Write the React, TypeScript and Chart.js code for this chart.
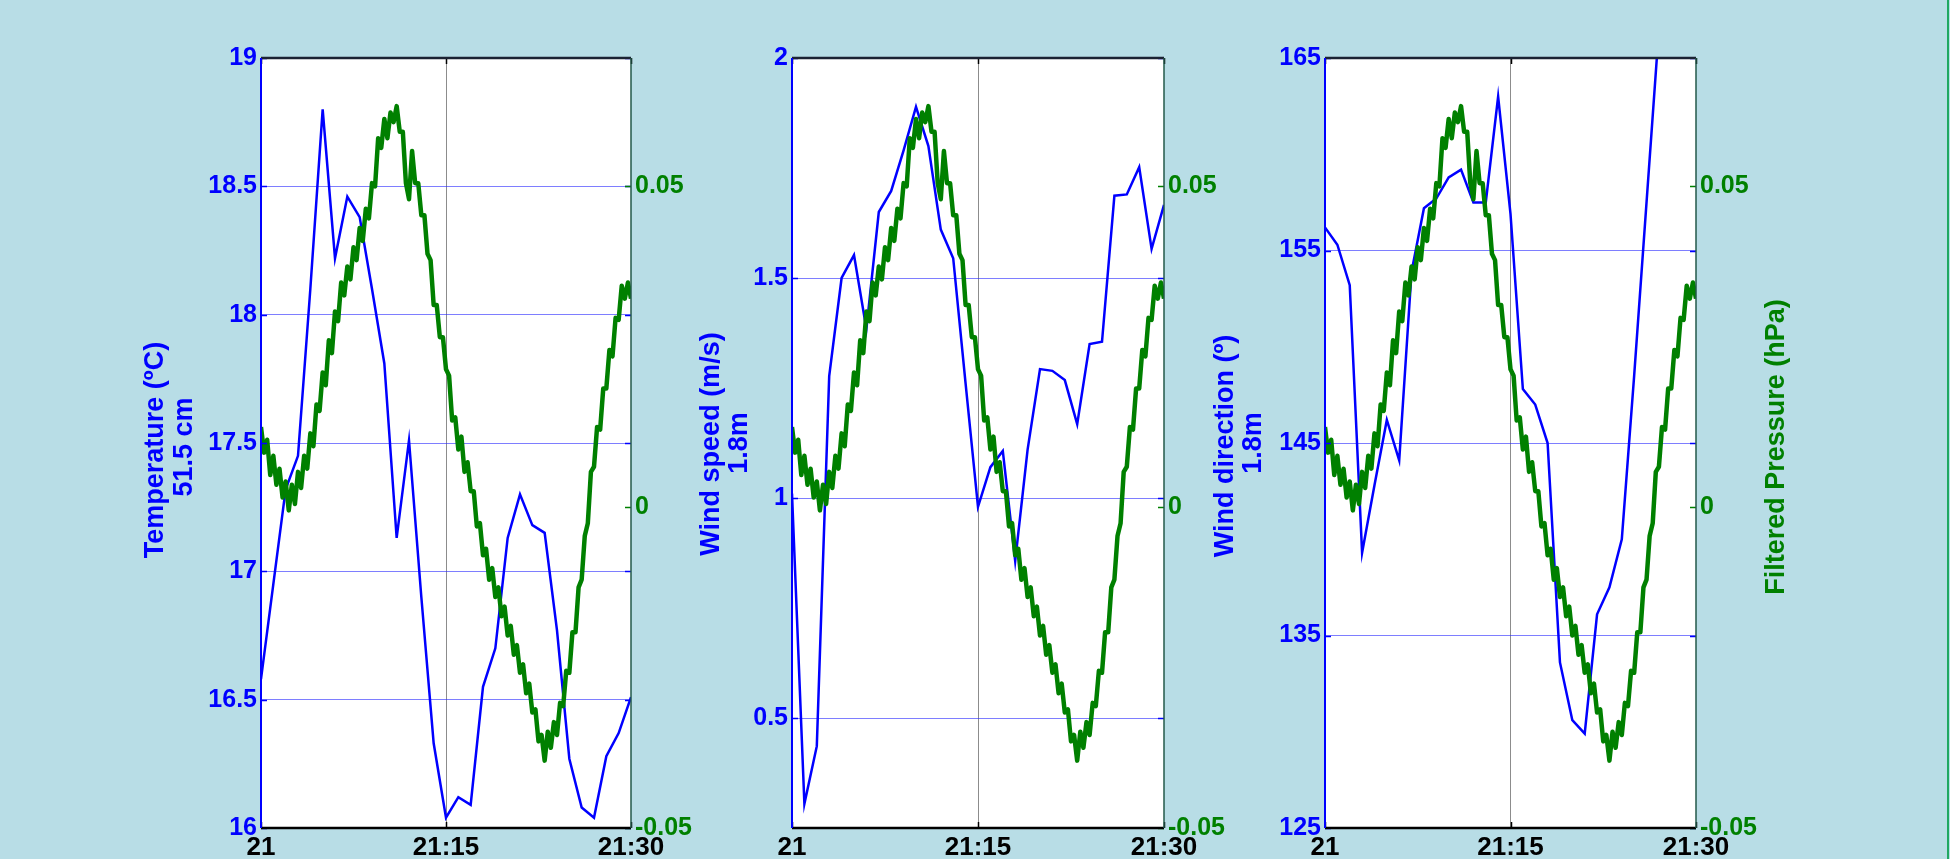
import React, { useEffect, useRef } from 'react';
import { Chart, registerables } from 'chart.js';

Chart.register(...registerables);

const W = 1950;
const H = 859;
const FONT = '"Liberation Sans", Arial, sans-serif';
const BLUE = '#0000FF';
const GREEN = '#008000';
const BG = '#B8DDE6';

// ---- data ----
const MINUTE_STEP = 1; // blue series sampled every minute from 21:00
const PRESSURE_STEP = 0.25; // filtered pressure sampled every 15 s

const X_TICKS = [0, 15, 30];
const X_TICK_LABELS = ['21', '21:15', '21:30'];

const temperature = [
  16.58, 16.95, 17.32, 17.45, 18.1, 18.8, 18.22, 18.46, 18.38, 18.1, 17.81,
  17.13, 17.51, 16.9, 16.33, 16.04, 16.12, 16.09, 16.55, 16.7, 17.13, 17.3,
  17.18, 17.15, 16.77, 16.27, 16.08, 16.04, 16.28, 16.37, 16.51,
];

const windSpeed = [
  1.01, 0.305, 0.436, 1.277, 1.5, 1.552, 1.384, 1.65, 1.698, 1.79, 1.889,
  1.8, 1.61, 1.545, 1.26, 0.98, 1.07, 1.107, 0.857, 1.11, 1.293, 1.289,
  1.268, 1.168, 1.35, 1.355, 1.687, 1.69, 1.752, 1.566, 1.666,
];

const windDirection = [
  156.2, 155.3, 153.2, 139.3, 142.8, 146.2, 144.1, 153.9, 157.2, 157.7, 158.8,
  159.2, 157.5, 157.5, 163.0, 156.9, 147.8, 147.0, 145.0, 133.6, 130.6, 129.9,
  136.1, 137.5, 140.0, 148.5, 157.5, 166.5, 170.0, 172.0, 171.0,
];

const pressure = [
  0.0125, 0.0085, 0.0105, 0.005, 0.008, 0.0035, 0.006, 0.0015, 0.004, -0.0005,
  0.0035, 0.0005, 0.0055, 0.003, 0.008, 0.006, 0.0115, 0.0095, 0.016, 0.015,
  0.021, 0.019, 0.026, 0.024, 0.0305, 0.029, 0.035, 0.033, 0.0375, 0.0355,
  0.0405, 0.0385, 0.0435, 0.0415, 0.0465, 0.045, 0.0505, 0.05, 0.0575, 0.056,
  0.0605, 0.0575, 0.0615, 0.06, 0.0625, 0.0585, 0.0585, 0.0505, 0.048, 0.0555,
  0.0505, 0.0505, 0.0455, 0.0455, 0.0395, 0.0385, 0.0315, 0.0315, 0.0265, 0.0265,
  0.0215, 0.0205, 0.0135, 0.014, 0.009, 0.011, 0.0055, 0.007, 0.0025, 0.0025,
  -0.003, -0.0025, -0.0075, -0.0065, -0.0113, -0.0095, -0.014, -0.0125, -0.017, -0.0155,
  -0.02, -0.0185, -0.023, -0.0215, -0.0258, -0.0245, -0.029, -0.0275, -0.032, -0.0315,
  -0.0365, -0.0355, -0.0395, -0.035, -0.0375, -0.0335, -0.0355, -0.0305, -0.031, -0.0255,
  -0.0258, -0.0195, -0.0195, -0.0125, -0.0113, -0.0045, -0.0025, 0.0055, 0.0063, 0.0125,
  0.0121, 0.0185, 0.0185, 0.0245, 0.0235, 0.0295, 0.0292, 0.0345, 0.0325, 0.035,
  0.0325,
];

const tempTicks = [16, 16.5, 17, 17.5, 18, 18.5, 19];
const speedTicks = [0.5, 1, 1.5, 2];
const dirTicks = [125, 135, 145, 155, 165];
const pressureTicks = [-0.05, 0, 0.05];

const PRESSURE_MIN = -0.05;
const PRESSURE_MAX = 0.07;

// ---- layout ----
const LW = 70;
const RW = 90;
const TOP = 58;
const XAXIS_H = 31;

const PANELS = [
  {
    left: 261, right: 631, values: temperature, yMin: 16, yMax: 19, yTicks: tempTicks,
    titles: [
      { text: 'Temperature (ºC)', x: 156, y: 450, color: BLUE },
      { text: '51.5 cm', x: 185, y: 447, color: BLUE },
    ],
  },
  {
    left: 792, right: 1164, values: windSpeed, yMin: 0.25, yMax: 2, yTicks: speedTicks,
    titles: [
      { text: 'Wind speed (m/s)', x: 712, y: 444, color: BLUE },
      { text: '1.8m', x: 740, y: 443, color: BLUE },
    ],
  },
  {
    left: 1325, right: 1696, values: windDirection, yMin: 125, yMax: 165, yTicks: dirTicks,
    titles: [
      { text: 'Wind direction (º)', x: 1226, y: 446, color: BLUE },
      { text: '1.8m', x: 1254, y: 443, color: BLUE },
      { text: 'Filtered Pressure (hPa)', x: 1777, y: 447, color: GREEN },
    ],
  },
];

const framePlugin = {
  id: 'matlabFrame',
  beforeDraw(chart: any) {
    const { ctx, chartArea: a } = chart;
    ctx.save();
    ctx.fillStyle = '#FFFFFF';
    ctx.fillRect(a.left, a.top, a.right - a.left, a.bottom - a.top);
    ctx.restore();
  },
  afterDraw(chart: any, _args: any, opts: any) {
    const { ctx, chartArea: a, scales } = chart;
    const line = (x1: number, y1: number, x2: number, y2: number, c: string, w: number) => {
      ctx.beginPath();
      ctx.strokeStyle = c;
      ctx.lineWidth = w;
      ctx.moveTo(x1, y1);
      ctx.lineTo(x2, y2);
      ctx.stroke();
    };
    ctx.save();
    const tl = 6;
    scales.yL.ticks.forEach((t: any) => {
      const y = Math.round(scales.yL.getPixelForValue(t.value)) + 0.5;
      line(a.left, y, a.left + tl, y, BLUE, 1.5);
      line(a.right, y, a.right - tl, y, BLUE, 1.5);
    });
    scales.yR.ticks.forEach((t: any) => {
      const y = Math.round(scales.yR.getPixelForValue(t.value)) + 0.5;
      line(a.right, y, a.right - tl, y, GREEN, 1.5);
    });
    scales.x.ticks.forEach((t: any) => {
      const x = Math.round(scales.x.getPixelForValue(t.value)) + 0.5;
      line(x, a.bottom, x, a.bottom - tl, '#000', 1.5);
      line(x, a.top, x, a.top + tl, '#000', 1.5);
    });
    line(a.left, a.top, a.right, a.top, '#1B2233', 2.5);
    line(a.left, a.bottom, a.right, a.bottom, '#000000', 2.5);
    line(a.left, a.top, a.left, a.bottom, BLUE, 2);
    line(a.right, a.top, a.right, a.bottom, '#23584A', 1.5);

    const titles = (opts && opts.titles) || [];
    titles.forEach((t: any) => {
      ctx.save();
      ctx.translate(t.x, t.y);
      ctx.rotate(-Math.PI / 2);
      ctx.font = `bold 27px ${FONT}`;
      ctx.fillStyle = t.color;
      ctx.textAlign = 'center';
      ctx.textBaseline = 'middle';
      ctx.fillText(t.text, 0, 0);
      ctx.restore();
    });
    ctx.restore();
  },
};

function buildConfig(p: any): any {
  const bluePts = p.values.map((v: number, i: number) => ({ x: i * MINUTE_STEP, y: v }));
  const greenPts = pressure.map((v: number, i: number) => ({ x: i * PRESSURE_STEP, y: v }));
  return {
    type: 'line',
    data: {
      datasets: [
        {
          data: greenPts, yAxisID: 'yR', borderColor: GREEN, borderWidth: 4.5,
          pointRadius: 0, tension: 0, clip: 0, borderJoinStyle: 'round',
        },
        {
          data: bluePts, yAxisID: 'yL', borderColor: BLUE, borderWidth: 2.5,
          pointRadius: 0, tension: 0, clip: 0,
        },
      ],
    },
    options: {
      animation: false,
      responsive: false,
      events: [],
      layout: { padding: { left: p.left - LW, right: W - p.right - RW, top: TOP, bottom: 0 } },
      plugins: {
        legend: { display: false },
        tooltip: { enabled: false },
        matlabFrame: { titles: p.titles },
      },
      scales: {
        x: {
          type: 'linear', min: 0, max: 30,
          afterBuildTicks: (s: any) => { s.ticks = X_TICKS.map((v) => ({ value: v })); },
          afterFit: (s: any) => { s.height = XAXIS_H; },
          ticks: {
            callback: (v: number) => X_TICK_LABELS[X_TICKS.indexOf(v)],
            color: '#000', font: { family: FONT, size: 26, weight: 'bold' },
            padding: 4, maxRotation: 0, autoSkip: false,
          },
          grid: {
            drawTicks: false, lineWidth: 1,
            color: (c: any) => (c.tick && c.tick.value === 15 ? 'rgba(0,0,0,0.45)' : 'rgba(0,0,0,0)'),
          },
          border: { display: false },
        },
        yL: {
          type: 'linear', position: 'left', min: p.yMin, max: p.yMax,
          afterBuildTicks: (s: any) => { s.ticks = p.yTicks.map((v: number) => ({ value: v })); },
          afterFit: (s: any) => { s.width = LW; },
          ticks: {
            callback: (v: number) => String(v),
            color: BLUE, font: { family: FONT, size: 25, weight: 'bold' }, padding: 4, autoSkip: false,
          },
          grid: {
            drawTicks: false, lineWidth: 1,
            color: (c: any) =>
              c.tick && (c.tick.value === p.yMin || c.tick.value === p.yMax)
                ? 'rgba(0,0,0,0)'
                : 'rgba(40,40,255,0.6)',
          },
          border: { display: false },
        },
        yR: {
          type: 'linear', position: 'right', min: PRESSURE_MIN, max: PRESSURE_MAX,
          afterBuildTicks: (s: any) => { s.ticks = pressureTicks.map((v) => ({ value: v })); },
          afterFit: (s: any) => { s.width = RW; },
          ticks: {
            callback: (v: number) => String(v),
            color: GREEN, font: { family: FONT, size: 25, weight: 'bold' }, padding: 4, autoSkip: false,
          },
          grid: { display: false, drawTicks: false },
          border: { display: false },
        },
      },
    },
    plugins: [framePlugin],
  };
}

export default function App() {
  const r1 = useRef<HTMLCanvasElement>(null);
  const r2 = useRef<HTMLCanvasElement>(null);
  const r3 = useRef<HTMLCanvasElement>(null);

  useEffect(() => {
    document.body.style.margin = '0';
    const refs = [r1, r2, r3];
    const charts = PANELS.map((p, i) => new Chart(refs[i].current as HTMLCanvasElement, buildConfig(p)));
    return () => charts.forEach((c) => c.destroy());
  }, []);

  return (
    <div style={{ position: 'absolute', left: 0, top: 0, width: W, height: H, background: BG, overflow: 'hidden' }}>
      {[r1, r2, r3].map((r, i) => (
        <canvas key={i} ref={r} width={W} height={H} style={{ position: 'absolute', left: 0, top: 0 }} />
      ))}
      <div style={{ position: 'absolute', left: 1947, top: 0, width: 2, height: H, background: '#1FA862' }} />
    </div>
  );
}
